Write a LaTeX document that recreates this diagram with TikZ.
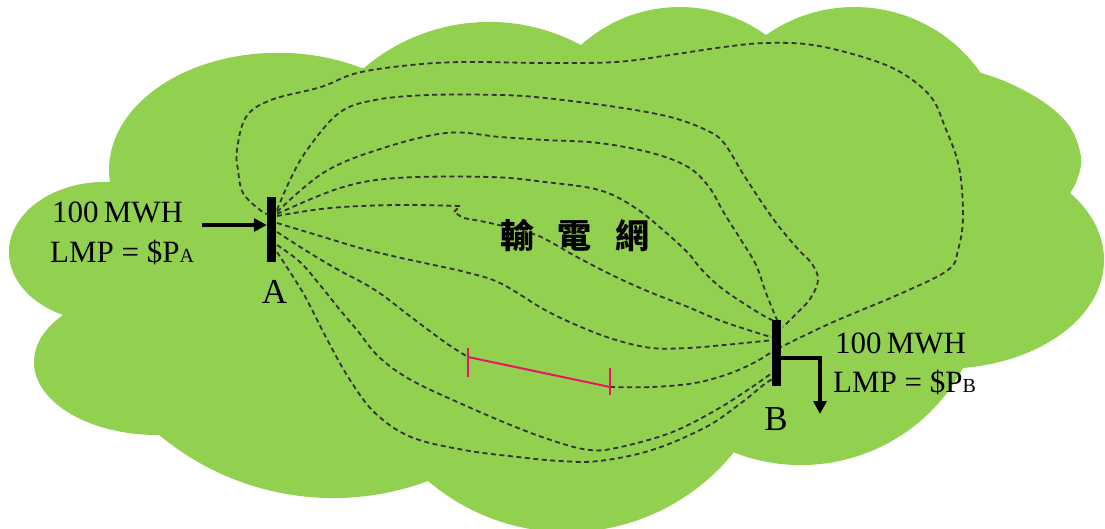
\documentclass[tikz,border=0pt]{standalone}
\usepackage{fontspec}
\setmainfont{Liberation Serif}
\newfontfamily\cjkfont{Noto Sans CJK TC}
\usetikzlibrary{arrows.meta}
\definecolor{cloudgreen}{RGB}{146,208,80}
\definecolor{limitred}{RGB}{236,20,100}
\begin{document}
\begin{tikzpicture}[x=1pt,y=-1pt,
  cloudfill/.style={fill=cloudgreen},
  tline/.style={draw=black!80, line width=1.8pt, dash pattern=on 5pt off 3.5pt},
  limitline/.style={draw=limitred, line width=2pt},
  busbar/.style={fill=black, inner sep=0pt, minimum width=9pt},
  flow/.style={line width=4pt, -{Triangle[length=13pt,width=13pt]}},
  lbl/.style={font=\fontsize{31}{31}\selectfont, inner sep=0pt, anchor=base west},
  buslbl/.style={font=\fontsize{35}{35}\selectfont, inner sep=0pt, anchor=base},
  smoothplot/.style={smooth, tension=0.6}]
\useasboundingbox (0,0) rectangle (1105,529);

% the grid area: a cloud of round lobes meeting at sharp cusps
\fill[cloudfill] (63,315)
  arc[start angle=116, end angle=272.9, x radius=96.2, y radius=70.1] -- (110,182)
  arc[start angle=174, end angle=299.2, x radius=169, y radius=117] -- (364,68)
  arc[start angle=229.6, end angle=298.3, radius=193.2] -- (581,45)
  arc[start angle=227.9, end angle=305.9, radius=147.1] -- (766,35)
  arc[start angle=234.9, end angle=325.2, radius=153.9] -- (981,73)
  -- plot[smoothplot] coordinates {(981,73) (1009,83) (1045,103) (1070,127) (1081,157) (1077,180) (1070,193)}
  arc[start angle=322, end angle=443.2, x radius=160.4, y radius=108.8] -- (963,368)
  arc[start angle=28.2, end angle=111.4, radius=184] -- (734,452)
  arc[start angle=38.7, end angle=130.5, radius=214] -- (428,481)
  arc[start angle=69.6, end angle=129.8, radius=271.8] -- (159,435)
  arc[start angle=89.3, end angle=220.1, x radius=123.5, y radius=73] -- cycle;

% line ends at the two buses
\coordinate (Aa) at (270,215);
\coordinate (Ab) at (277,210);
\coordinate (Ac) at (277,212);
\coordinate (Ad) at (277,214);
\coordinate (Ae) at (277,216);
\coordinate (Af) at (277,223);
\coordinate (Ag) at (277,232);
\coordinate (Ah) at (277,245);
\coordinate (Ai) at (277,252);
\coordinate (Ba) at (781,347);
\coordinate (Bb) at (783,327);
\coordinate (Bc) at (777,320);
\coordinate (Bd) at (776,322);
\coordinate (Be) at (774,338);
\coordinate (Bf) at (774,340);
\coordinate (Bg) at (774,350);
\coordinate (Bh) at (776,370);
\coordinate (Bi) at (776,378);
\coordinate (R1) at (468,357);
\coordinate (R2) at (610,387);

% transmission paths between A and B
\draw[tline] plot[smoothplot] coordinates {(Aa) (260,210) (243,193) (238,170) (237,150) (246,117) (271,100) (321,87) (357,73) (411,65) (464,62) (545,63) (616,62) (670,55) (724,47) (766,43) (813,45) (866,58) (902,73) (931,97) (945,127) (959,167) (963,217) (958,250) (948,270) (902,293) (831,323) (Ba)};
\draw[tline] plot[smoothplot] coordinates {(Ab) (290,180) (307,150) (339,113) (375,100) (429,95) (500,95) (545,98) (616,107) (670,117) (706,130) (724,143) (745,177) (774,220) (797,248) (812,264) (818,280) (810,299) (795,315) (Bb)};
\draw[tline] plot[smoothplot] coordinates {(Ac) (323,173) (377,150) (446,133) (500,137) (545,140) (599,143) (652,153) (688,167) (709,187) (724,213) (741,240) (756,265) (766,293) (Bc)};
\draw[tline] plot[smoothplot] coordinates {(Ad) (340,188) (397,178) (490,177) (545,182) (599,190) (634,207) (663,230) (688,253) (702,270) (724,290) (759,313) (Bd)};
\draw[tline] plot[smoothplot] coordinates {(Ae) (330,208) (397,205) (460,206)} -- (454,212)
  -- plot[smoothplot] coordinates {(463,218) (490,223) (530,233) (547,240) (577,257) (616,277) (652,293) (688,307) (724,322) (Be)};
\draw[tline] plot[smoothplot] coordinates {(Af) (320,236) (360,248) (397,257) (429,264) (465,272) (500,283) (545,310) (581,327) (616,340) (652,348) (688,348) (724,345) (Bf)};
\draw[tline] plot[smoothplot] coordinates {(Ag) (305,250) (335,268) (375,290) (411,317) (446,343) (R1)};
\draw[tline] plot[smoothplot] coordinates {(R2) (652,387) (695,383) (731,373) (759,360) (Bg)};
\draw[tline] plot[smoothplot] coordinates {(Ah) (300,262) (320,285) (340,310) (357,330) (379,357) (411,380) (464,405) (518,428) (560,443) (590,450) (616,448) (670,433) (716,410) (752,387) (Bh)};
\draw[tline] plot[smoothplot] coordinates {(Ai) (297,283) (307,300) (329,343) (350,380) (375,413) (411,437) (464,450) (518,457) (560,461) (599,461) (652,450) (706,427) (741,403) (766,383) (Bi)};

% congested line segment
\draw[limitline] (R1) -- (R2);
\draw[limitline] ([yshift=9pt]R1) -- ([yshift=-20pt]R1);
\draw[limitline] ([yshift=19pt]R2) -- ([yshift=-8pt]R2);

% buses
\node[busbar, minimum height=65pt] (A) at (271.5,229.5) {};
\node[busbar, minimum height=66pt] (B) at (776.5,353) {};
\node[buslbl] (labA) at (274.5,303) {A};
\node[buslbl] (labB) at (776,430) {B};

% injection at A, withdrawal at B
\coordinate (inA) at (202,225);
\draw[flow] (inA) -- (inA -| A.west);
\coordinate (outB) at (820,414);
\draw[flow] ([yshift=-5pt]B.east) -| (outB);

% quantities and prices
\node[lbl] (qa) at (52,223) {100\,MWH};
\node[lbl] (pa) at (50,262) {LMP = \$P{\fontsize{20}{20}\selectfont A}};
\node[lbl] (qb) at (835,353) {100\,MWH};
\node[lbl] (pb) at (833,392) {LMP = \$P{\fontsize{20}{20}\selectfont B}};

% grid title
\node[font={\cjkfont\bfseries\fontsize{34}{34}\selectfont}, inner sep=0pt] (title) at (575,235) {輸\hspace{24pt}電\hspace{24pt}網};
\end{tikzpicture}
\end{document}
